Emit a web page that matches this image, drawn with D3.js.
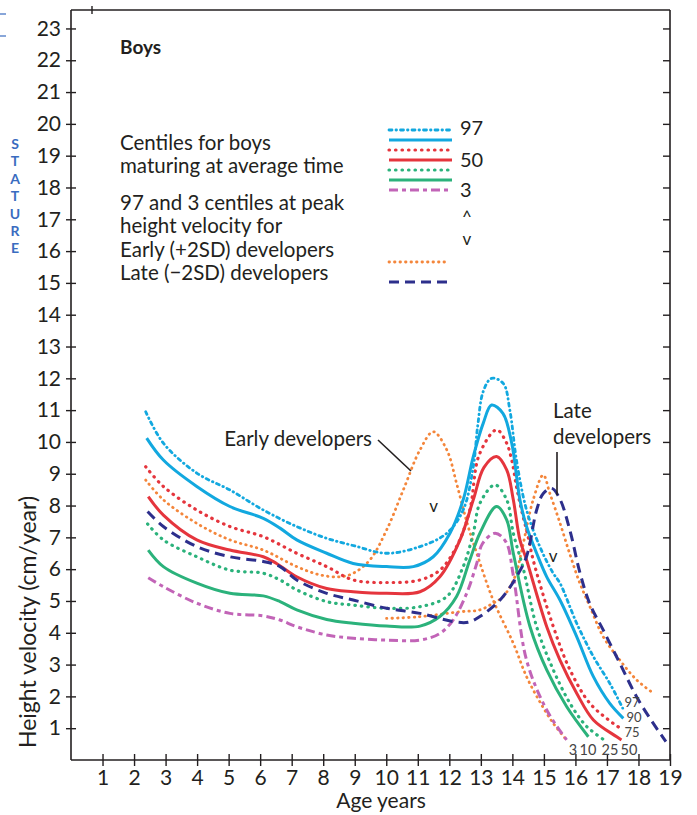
<!DOCTYPE html>
<html><head><meta charset="utf-8">
<script src="https://cdn.jsdelivr.net/npm/d3@7"></script>
<style>
html,body{margin:0;padding:0;background:#fff;}
svg{display:block;font-family:Lato, "Open Sans", sans-serif;}
</style></head>
<body>
<script>
// ---- data (age in years, height velocity cm/year) ----
const yTicks = d3.range(1, 24);
const xTicks = d3.range(1, 20);

const c97 = [[2.37,10.95],[2.93,9.96],[3.99,9.02],[5.04,8.49],[6.10,7.86],[7.16,7.34],[8.11,6.97],[9.0,6.73],[10.0,6.5],[11.07,6.71],[11.92,7.13],[12.44,7.86],[12.76,9.22],[12.9,10.5],[13.08,11.6],[13.34,12.0],[13.71,11.84],[13.92,11.0],[14.13,9.43],[14.45,7.86],[14.87,6.71],[15.29,5.88],[15.51,5.56],[16.04,4.30],[16.57,3.25],[17.09,2.41],[17.5,1.63]];
const c90 = [[2.40,10.12],[2.93,9.43],[3.99,8.6],[5.04,7.97],[6.1,7.6],[6.63,7.29],[7.16,6.92],[8.11,6.5],[8.95,6.18],[10.01,6.08],[10.86,6.08],[11.49,6.39],[12.02,7.13],[12.44,8.18],[12.76,9.54],[13.08,10.6],[13.34,11.16],[13.7,10.9],[13.98,9.96],[14.24,8.18],[14.45,7.34],[14.77,6.5],[15.09,5.76],[15.51,5.03],[16.04,3.88],[16.57,2.62],[17.09,1.78],[17.52,1.31]];
const c75 = [[2.37,9.22],[2.93,8.6],[3.99,7.86],[5.04,7.34],[6.1,7.02],[7.16,6.5],[8.11,6.08],[8.95,5.66],[10.01,5.58],[11.07,5.66],[11.7,5.97],[12.23,6.71],[12.65,7.86],[12.95,9.6],[13.5,10.38],[13.8,10.0],[13.98,9.43],[14.13,8.6],[14.29,7.86],[14.5,7.02],[14.66,6.29],[15.30,4.19],[15.83,2.83],[16.46,1.78],[17.2,1.15],[17.52,0.94]];
const c50 = [[2.45,8.28],[2.93,7.7],[3.99,6.92],[5.04,6.6],[6.1,6.39],[6.52,6.18],[7.16,5.76],[8.11,5.39],[8.95,5.29],[10.01,5.24],[11.07,5.29],[11.7,5.76],[12.34,6.92],[12.76,8.18],[13.1,9.2],[13.5,9.54],[13.82,9.12],[14.03,8.18],[14.24,6.92],[14.45,6.29],[15.09,4.19],[15.51,3.14],[16.04,2.1],[16.57,1.26],[17.31,0.73],[17.46,0.63]];
const c25 = [[2.43,7.42],[2.93,6.92],[3.99,6.39],[5.04,5.97],[6.1,5.87],[6.63,5.66],[7.16,5.35],[8.11,4.98],[8.95,4.87],[10.01,4.77],[11.07,4.82],[11.92,5.14],[12.44,6.08],[12.76,7.13],[12.97,8.07],[13.45,8.65],[13.82,8.18],[14.03,7.13],[14.35,6.0],[14.77,4.19],[15.3,2.83],[15.83,1.78],[16.36,1.05],[16.99,0.58]];
const c10 = [[2.45,6.6],[2.93,6.08],[3.99,5.56],[5.04,5.24],[6.1,5.16],[6.63,4.98],[7.16,4.72],[8.11,4.42],[8.95,4.3],[10.01,4.21],[11.07,4.21],[11.7,4.51],[12.23,5.14],[12.65,6.29],[12.97,7.13],[13.5,7.97],[13.82,7.55],[14.03,6.5],[14.56,4.19],[15.09,2.83],[15.72,1.68],[16.41,0.73]];
const c3 = [[2.45,5.73],[2.93,5.45],[3.99,4.93],[5.04,4.61],[6.1,4.53],[6.63,4.4],[7.16,4.19],[8.11,3.93],[8.95,3.83],[10.01,3.77],[11.07,3.77],[11.7,3.98],[12.12,4.4],[12.55,5.24],[12.87,6.18],[13.05,6.8],[13.45,7.13],[13.8,6.85],[14.03,5.8],[14.45,3.14],[15.09,1.57],[15.72,0.63]];
const earlyDev = [[2.37,8.8],[2.93,8.18],[3.99,7.44],[5.04,6.92],[6.1,6.6],[7.16,6.08],[7.9,5.82],[8.53,5.76],[8.95,5.87],[9.48,6.29],[10.01,7.23],[10.54,8.49],[11.07,9.75],[11.49,10.32],[11.92,9.75],[12.23,8.7],[12.55,7.5],[12.87,6.5],[13.39,5.03],[14.03,3.67],[14.45,2.62],[14.9,1.78],[15.3,1.15],[15.72,0.63]];
const lateDevOrange = [[10.01,4.45],[11.0,4.5],[12.34,4.66],[12.97,4.72],[13.39,4.93],[13.71,5.14],[14.08,5.76],[14.3,6.6],[14.66,8.18],[14.98,8.96],[15.19,8.38],[15.51,7.45],[15.83,6.45],[16.14,5.56],[16.46,4.82],[16.88,3.88],[17.41,3.14],[17.94,2.52],[18.47,2.1]];
const lateDev = [[2.43,7.81],[2.93,7.34],[3.99,6.71],[5.04,6.39],[6.1,6.24],[6.63,6.08],[7.16,5.66],[8.11,5.24],[8.95,5.03],[10.01,4.77],[11.07,4.61],[12.13,4.35],[12.6,4.33],[12.97,4.51],[13.61,5.03],[14.13,5.76],[14.45,6.4],[14.77,7.86],[14.98,8.38],[15.25,8.54],[15.51,8.2],[15.83,7.2],[16.14,5.9],[16.46,4.9],[16.88,4.09],[17.41,3.04],[17.94,1.99],[18.47,1.15],[18.87,0.58]];
const peakMarks = [[11.5,7.96],[15.29,6.38]];

const centileLabelsRight = ["97","90","75"];
const centileLabelsBottom = ["3","10","25","50"];
const legendNames = ["97","50","3"];

// ---- layout ----
const W = 697, H = 815;
const svg = d3.select("body").append("svg").attr("width", W).attr("height", H);
const x = d3.scaleLinear().domain([0, 19]).range([71, 670]);
const y = d3.scaleLinear().domain([0, 23.58]).range([760, 10]);
const ink = "#231f20";

const col = {cyan:"#12a8df", red:"#e5353d", green:"#2bb27b", magenta:"#c264b7", orange:"#f4863b", navy:"#2d2f8c"};
const styles = {
  c97:{stroke:col.cyan, dash:"3,4,0.5,4", w:2.8, cap:"round"},
  c90:{stroke:col.cyan, dash:null, w:3},
  c75:{stroke:col.red, dash:"0.5,6", w:3.2, cap:"round"},
  c50:{stroke:col.red, dash:null, w:3},
  c25:{stroke:col.green, dash:"0.5,6", w:3.2, cap:"round"},
  c10:{stroke:col.green, dash:null, w:3},
  c3:{stroke:col.magenta, dash:"9,4,4,4", w:3},
  early:{stroke:col.orange, dash:"0.5,5", w:2.8, cap:"round"},
  lateO:{stroke:col.orange, dash:"0.5,5", w:2.8, cap:"round"},
  late:{stroke:col.navy, dash:"10,6", w:3}
};

// frame
const g = svg.append("g");
g.append("line").attr("x1",x(0)).attr("x2",x(19)).attr("y1",y(0)).attr("y2",y(0)).attr("stroke",ink).attr("stroke-width",1.6);
g.append("line").attr("x1",x(0)).attr("x2",x(19)).attr("y1",10).attr("y2",10).attr("stroke",ink).attr("stroke-width",1.6);
g.append("line").attr("x1",x(0)).attr("x2",x(0)).attr("y1",10).attr("y2",y(0)).attr("stroke",ink).attr("stroke-width",1.6);
g.append("line").attr("x1",x(19)).attr("x2",x(19)).attr("y1",10).attr("y2",y(0)).attr("stroke",ink).attr("stroke-width",1.6);
g.append("line").attr("x1",92).attr("x2",92).attr("y1",6).attr("y2",14).attr("stroke",ink).attr("stroke-width",1.4);

// left axis
const yAxis = d3.axisLeft(y).tickValues(yTicks).tickSize(5).tickPadding(6).tickFormat(d3.format("d"));
const ga = svg.append("g").attr("transform",`translate(${x(0)},0)`).call(yAxis);
ga.select(".domain").remove();
ga.selectAll(".tick line").attr("x2",-5).attr("x1",5).attr("stroke",ink).attr("stroke-width",1.4);
ga.selectAll(".tick text").attr("font-size",21).attr("fill",ink).attr("x",-10).style("font-family","Lato");

// right axis ticks (inside)
const gr = svg.append("g").attr("transform",`translate(${x(19)},0)`).call(d3.axisLeft(y).tickValues(yTicks).tickSize(7).tickFormat(""));
gr.select(".domain").remove();
gr.selectAll(".tick line").attr("stroke",ink).attr("stroke-width",1.4);

// bottom axis
const xAxis = d3.axisBottom(x).tickValues(xTicks).tickSize(6).tickPadding(8).tickFormat(d3.format("d"));
const gb = svg.append("g").attr("transform",`translate(0,${y(0)})`).call(xAxis);
gb.select(".domain").remove();
gb.selectAll(".tick line").attr("y1",-6).attr("y2",6).attr("stroke",ink).attr("stroke-width",1.4);
gb.selectAll(".tick text").attr("font-size",21).attr("fill",ink).attr("y",10).style("font-family","Lato");

// axis titles
svg.append("text").attr("x",381).attr("y",808).attr("text-anchor","middle").attr("font-size",21).attr("fill",ink).text("Age years");
svg.append("text").attr("transform","translate(36,622) rotate(-90)").attr("text-anchor","middle").attr("font-size",23).attr("fill",ink).text("Height velocity (cm/year)");

// STATURE
const stat = "STATURE".split("");
svg.append("g").selectAll("text").data(stat).join("text")
  .attr("x",15).attr("y",(d,i)=>149 + i*17.4).attr("text-anchor","middle")
  .attr("font-size",14).attr("font-weight","bold").attr("fill","#3a6cc0").text(d=>d);
svg.append("line").attr("x1",0).attr("x2",6).attr("y1",14).attr("y2",14).attr("stroke","#3a6cc0").attr("stroke-width",1.2);
svg.append("line").attr("x1",0).attr("x2",6).attr("y1",36).attr("y2",36).attr("stroke","#3a6cc0").attr("stroke-width",1.2);

// curves
const line = d3.line().x(d=>x(d[0])).y(d=>y(d[1])).curve(d3.curveCatmullRom.alpha(0.5));
const series = [
  [earlyDev,"early"],[lateDevOrange,"lateO"],[c3,"c3"],[c10,"c10"],[c25,"c25"],[c50,"c50"],[c75,"c75"],[c90,"c90"],[c97,"c97"],[lateDev,"late"]
];
const gc = svg.append("g").attr("fill","none");
series.forEach(([data,key])=>{
  const s = styles[key];
  gc.append("path").datum(data).attr("d",line)
    .attr("stroke",s.stroke).attr("stroke-width",s.w)
    .attr("stroke-dasharray",s.dash).attr("stroke-linecap",s.cap||"butt");
});

// peak markers
svg.append("g").selectAll("text").data(peakMarks).join("text")
  .attr("x",d=>x(d[0])).attr("y",d=>y(d[1])+5).attr("text-anchor","middle")
  .attr("font-size",17).attr("fill",ink).text("v");

// end labels
const rightLabelPos = [[632,707],[634,722],[632,737]];
svg.append("g").selectAll("text").data(centileLabelsRight).join("text")
  .attr("x",(d,i)=>rightLabelPos[i][0]).attr("y",(d,i)=>rightLabelPos[i][1])
  .attr("text-anchor","middle").attr("font-size",13).attr("fill","#444").text(d=>d);
const bottomLabelX = [573,588,610,629];
svg.append("g").selectAll("text").data(centileLabelsBottom).join("text")
  .attr("x",(d,i)=>bottomLabelX[i]).attr("y",755)
  .attr("text-anchor","middle").attr("font-size",14.5).attr("fill","#444").text(d=>d);

// annotations
svg.append("text").attr("x",372).attr("y",446).attr("text-anchor","end").attr("font-size",20.5).attr("fill",ink).text("Early developers");
svg.append("line").attr("x1",378).attr("y1",440).attr("x2",411).attr("y2",471).attr("stroke",ink).attr("stroke-width",1.6);
svg.append("text").attr("x",553).attr("y",418).attr("font-size",20.5).attr("fill",ink).text("Late");
svg.append("text").attr("x",553).attr("y",444).attr("font-size",20.5).attr("fill",ink).text("developers");
svg.append("line").attr("x1",557).attr("y1",452).attr("x2",557).attr("y2",495).attr("stroke",ink).attr("stroke-width",1.6);

// legend
svg.append("text").attr("x",120).attr("y",54).attr("font-size",19).attr("font-weight","bold").attr("fill",ink).text("Boys");
const legText = ["Centiles for boys","maturing at average time","97 and 3 centiles at peak","height velocity for","Early (+2SD) developers","Late (\u22122SD) developers"];
const legY = [150,173,210,233,257,280];
svg.append("g").selectAll("text").data(legText).join("text")
  .attr("x",120).attr("y",(d,i)=>legY[i]).attr("font-size",20.5).attr("fill",ink).text(d=>d);
const legLines = [["c97",130],["c90",140],["c75",150],["c50",160],["c25",170],["c10",180],["c3",190],["early",262],["late",282]];
legLines.forEach(([k,yy])=>{
  const s = styles[k];
  svg.append("line").attr("x1",389).attr("x2",k==="early"?447:452).attr("y1",yy).attr("y2",yy)
    .attr("stroke",s.stroke).attr("stroke-width",s.w).attr("stroke-dasharray",s.dash).attr("stroke-linecap",s.cap||"butt");
});
const legNumY = [135,167,197];
svg.append("g").selectAll("text").data(legendNames).join("text")
  .attr("x",460).attr("y",(d,i)=>legNumY[i]).attr("font-size",20).attr("fill",ink).text(d=>d);
svg.append("text").attr("x",467).attr("y",223).attr("text-anchor","middle").attr("font-size",17).attr("fill",ink).text("^");
svg.append("text").attr("x",467).attr("y",245).attr("text-anchor","middle").attr("font-size",17).attr("fill",ink).text("v");
</script>
</body></html>
